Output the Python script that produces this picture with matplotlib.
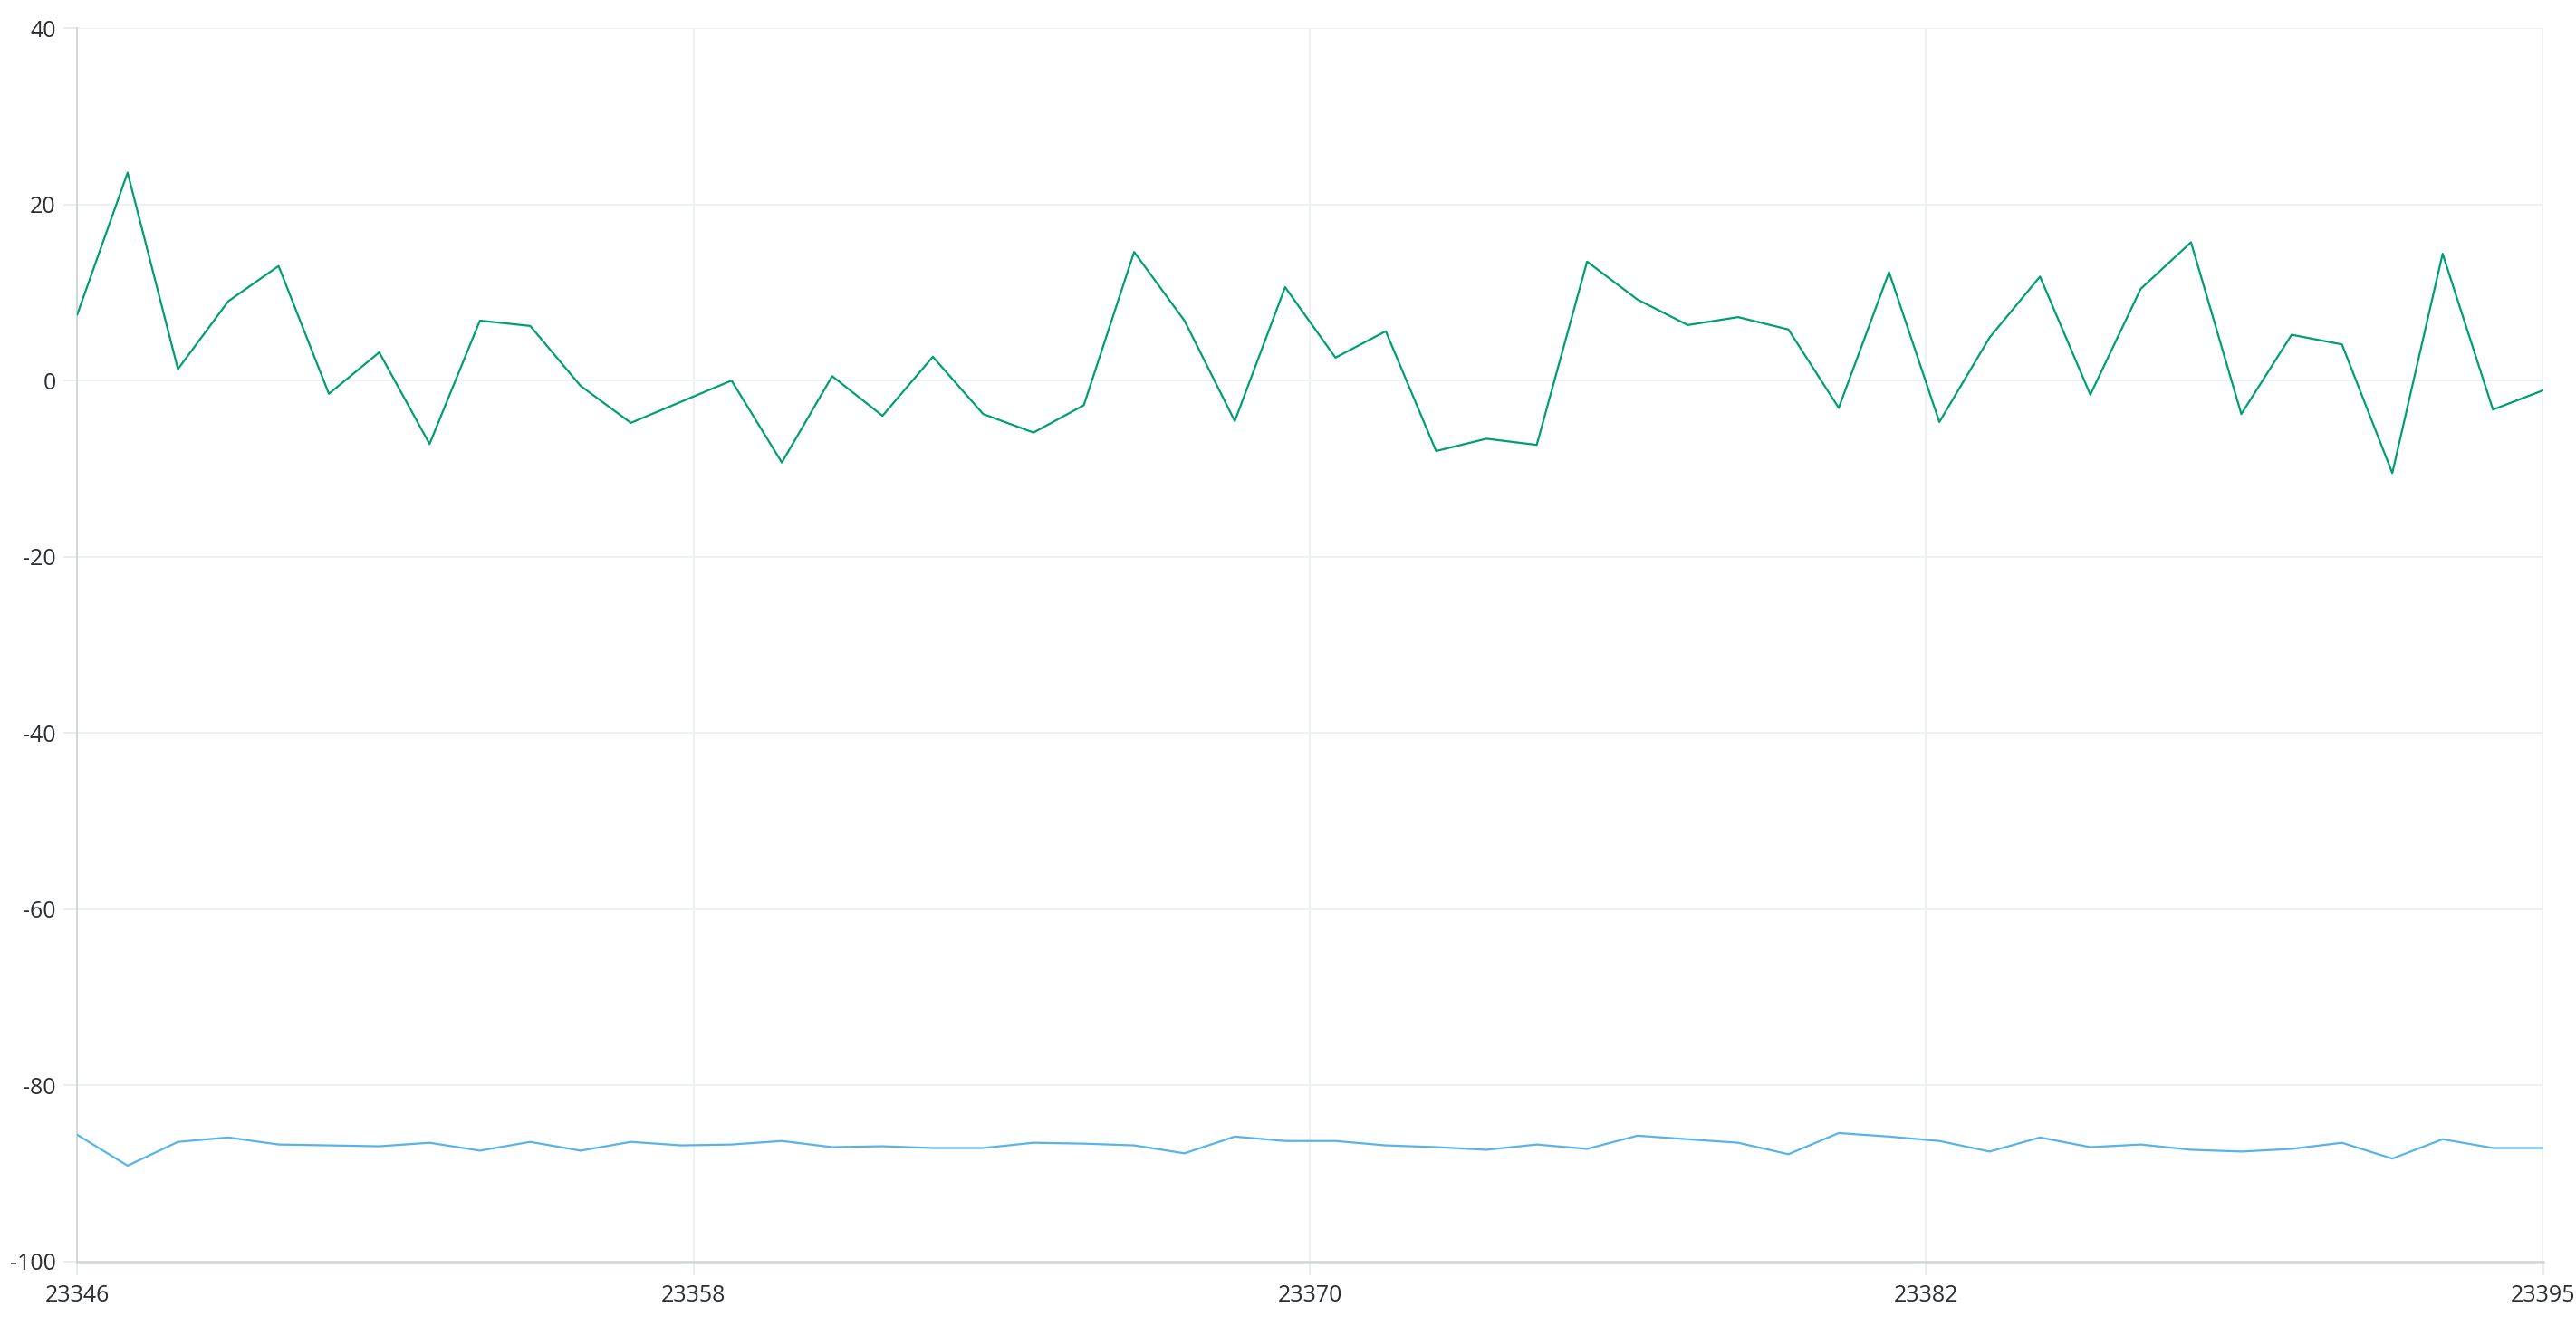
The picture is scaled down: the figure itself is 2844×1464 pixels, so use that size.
import numpy as np
import matplotlib
matplotlib.use('Agg')
import matplotlib.pyplot as plt

plt.rcParams['font.family'] = ['Open Sans', 'DejaVu Sans']
plt.rcParams['axes.unicode_minus'] = False

# series (50 samples)
green_values = [7.5, 23.6, 1.3, 9.0, 13.0, -1.5, 3.2, -7.2, 6.8, 6.2,
                -0.6, -4.8, -2.4, 0.0, -9.3, 0.5, -4.0, 2.7, -3.8, -5.9,
                -2.8, 14.6, 6.8, -4.6, 10.6, 2.6, 5.6, -8.0, -6.6, -7.3,
                13.5, 9.2, 6.3, 7.2, 5.8, -3.1, 12.3, -4.7, 4.9, 11.8,
                -1.6, 10.4, 15.7, -3.8, 5.2, 4.1, -10.5, 14.4, -3.3, -1.1]
blue_values = [-85.6, -89.1, -86.4, -85.9, -86.7, -86.8, -86.9, -86.5, -87.4, -86.4,
               -87.4, -86.4, -86.8, -86.7, -86.3, -87.0, -86.9, -87.1, -87.1, -86.5,
               -86.6, -86.8, -87.7, -85.8, -86.3, -86.3, -86.8, -87.0, -87.3, -86.7,
               -87.2, -85.7, -86.1, -86.5, -87.8, -85.4, -85.8, -86.3, -87.5, -85.9,
               -87.0, -86.7, -87.3, -87.5, -87.2, -86.5, -88.3, -86.1, -87.1, -87.1]

x_start = 23346
x_step = 0.98
x_tick_values = [23346, 23358, 23370, 23382]
x_tick_labels = ['23346', '23358', '23370', '23382', '23395']
y_ticks = [-100, -80, -60, -40, -20, 0, 20, 40]

x = x_start + x_step * np.arange(len(green_values))
x_end = x[-1]

fig = plt.figure(figsize=(28.44, 14.64), dpi=100)
ax = fig.add_axes([0.0300, 0.0485, 0.9573, 0.9303])

ax.plot(x, green_values, color='#009E73', linewidth=1.6, zorder=3)
ax.plot(x, blue_values, color='#56B4E9', linewidth=1.6, zorder=3)

ax.set_xlim(x_start, x_end)
ax.set_ylim(-100, 40)
ax.set_xticks(x_tick_values + [x_end])
ax.set_xticklabels(x_tick_labels)
ax.set_yticks(y_ticks)
ax.set_yticklabels([str(v) for v in y_ticks])

ax.grid(True, color='#edf1f1', linewidth=1.4, zorder=0)
ax.set_axisbelow(True)
for side in ['top', 'right']:
    ax.spines[side].set_visible(False)
ax.spines['left'].set_color('#d2d6d8')
ax.spines['bottom'].set_color('#d2d6d8')
ax.spines['left'].set_linewidth(1.4)
ax.spines['bottom'].set_linewidth(1.8)

ax.tick_params(axis='both', labelsize=18, colors='#2b2f33', length=11,
               width=1.2, pad=6)
ax.tick_params(axis='x', color='#e6eaeb', pad=7)
ax.tick_params(axis='y', color='#e6eaeb')

fig.savefig('out.png', dpi=100)
